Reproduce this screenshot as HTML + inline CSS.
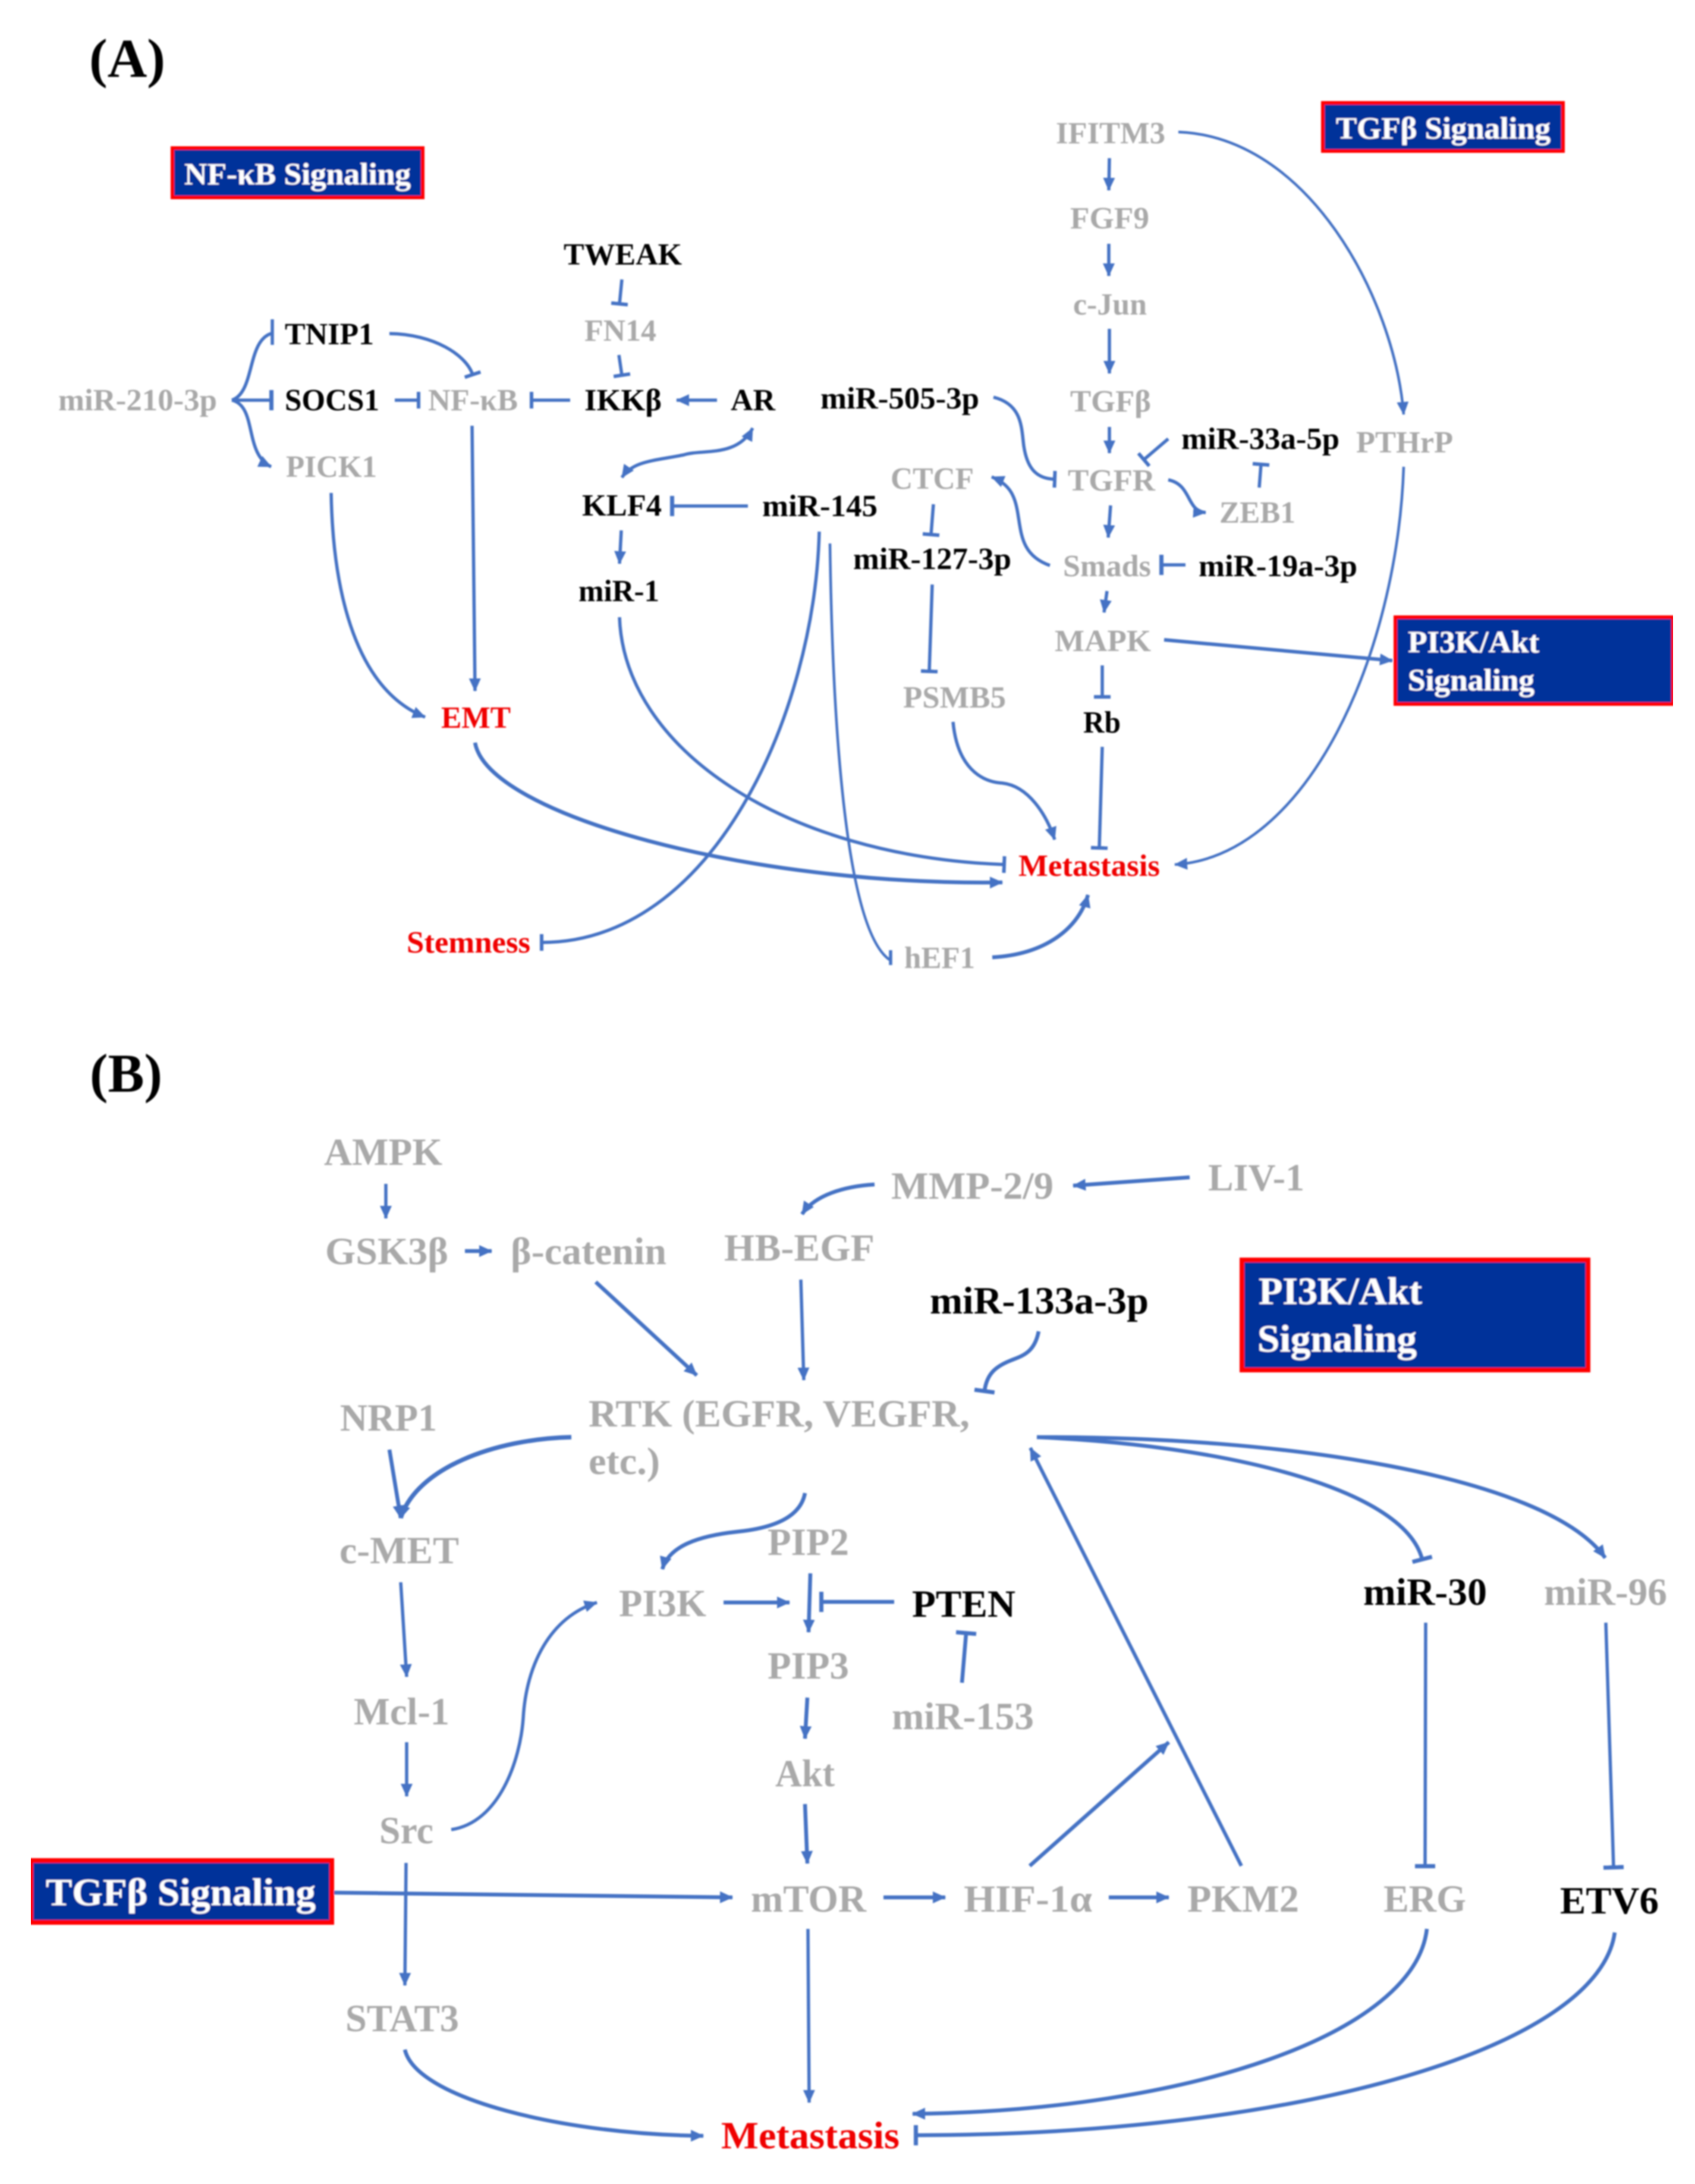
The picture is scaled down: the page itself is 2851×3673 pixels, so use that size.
<!DOCTYPE html>
<html>
<head>
<meta charset="utf-8">
<style>
html,body{margin:0;padding:0;background:#fff;width:2851px;height:3673px;overflow:hidden}
svg{display:block}
text{font-family:"Liberation Serif","DejaVu Serif",serif;font-weight:bold}
.a{font-size:52px}.b{font-size:65px}
.g{fill:#a9a9a9}.k{fill:#000}.r{fill:#f00000}.w{fill:#fff}
.t path,.t line{fill:none;stroke:#4472c4;stroke-width:5.5}
.h path,.h line{stroke-width:6.5}
</style>
</head>
<body>
<svg width="2851" height="3673" viewBox="0 0 2851 3673" xmlns="http://www.w3.org/2000/svg">
<defs>
<filter id="bl" x="0" y="0" width="100%" height="100%"><feGaussianBlur stdDeviation="1.2"/></filter>
<marker id="ar" markerUnits="userSpaceOnUse" markerWidth="26" markerHeight="26" refX="21" refY="13" orient="auto"><path d="M0,3 L22,13 L0,23 Z" fill="#4472c4" style="stroke:none"/></marker>
<marker id="as" markerUnits="userSpaceOnUse" markerWidth="26" markerHeight="26" refX="1" refY="13" orient="auto"><path d="M22,3 L0,13 L22,23 Z" fill="#4472c4" style="stroke:none"/></marker>
<marker id="ta" markerUnits="userSpaceOnUse" markerWidth="8" markerHeight="32" refX="3" refY="16" orient="auto"><rect x="0" y="2" width="6" height="28" fill="#4472c4" style="stroke:none"/></marker>
<marker id="tb" markerUnits="userSpaceOnUse" markerWidth="9" markerHeight="40" refX="3" refY="20" orient="auto"><rect x="0" y="3" width="7" height="34" fill="#4472c4" style="stroke:none"/></marker>
</defs>
<rect width="2851" height="3673" fill="#fff"/>
<g filter="url(#bl)">

<!-- boxes -->
<rect x="290" y="249" width="421" height="83" fill="#03339a" stroke="#f00" stroke-width="6"/>
<rect x="2225" y="173" width="404" height="81" fill="#03339a" stroke="#f00" stroke-width="6"/>
<rect x="2347" y="1038" width="467" height="146" fill="#03339a" stroke="#f00" stroke-width="6"/>
<rect x="2089" y="2119" width="582" height="185" fill="#03339a" stroke="#f00" stroke-width="8"/>
<rect x="52" y="3129" width="506" height="104" fill="#03339a" stroke="#f00" stroke-width="8"/>

<!-- connectors panel A -->
<g class="t">
<path d="M1046,470 L1042,511" marker-end="url(#ta)"/>
<path d="M1041,597 L1046,631" marker-end="url(#ta)"/>
<path d="M390,673 C429,660 415,574 456,561"/>
<line x1="458" y1="537" x2="458" y2="580"/>
<path d="M390,673 L456,673" marker-end="url(#tb)"/>
<path d="M390,673 C433,683 410,763 456,785" marker-end="url(#ar)"/>
<path d="M655,561 C730,562 784,597 795,630" marker-end="url(#ta)"/>
<path d="M664,673 L704,673" marker-end="url(#ta)"/>
<path d="M959,673 L894,673" marker-end="url(#ta)"/>
<path d="M1206,673 L1138,673" marker-end="url(#ar)"/>
<path d="M1266,720 C1240,770 1180,755 1150,765 C1100,775 1065,775 1046,803" marker-start="url(#as)" marker-end="url(#ar)"/>
<path d="M1258,851 L1131,851" marker-end="url(#tb)"/>
<path d="M557,829 C560,1000 600,1160 715,1206" marker-end="url(#ar)"/>
<path d="M794,716 L799,1162" marker-end="url(#ar)"/>
<path d="M1045,892 L1042,948" marker-end="url(#ar)"/>
<path d="M1042,1038 C1050,1260 1320,1440 1689,1454" marker-end="url(#ta)"/>
<path d="M799,1249 C820,1370 1260,1490 1686,1484" marker-end="url(#ar)" style="stroke-width:6.5"/>
<path d="M1378,894 C1370,1200 1200,1585 911,1585" marker-end="url(#ta)"/>
<path d="M1396,914 C1400,1200 1420,1560 1496,1614" style="stroke-width:4.5"/>
<line x1="1498" y1="1598" x2="1498" y2="1623"/>
<path d="M1669,1610 C1760,1605 1815,1560 1830,1505" marker-end="url(#ar)" style="stroke-width:6.5"/>
<path d="M1603,1214 C1610,1290 1650,1315 1686,1317 C1730,1322 1760,1370 1774,1412" marker-end="url(#ar)"/>
<path d="M1854,1256 L1849,1426" marker-end="url(#ta)"/>
<path d="M1982,222 C2200,230 2345,500 2361,697" marker-end="url(#ar)" style="stroke-width:4.5"/>
<path d="M2361,785 C2350,1100 2200,1440 1976,1454" marker-end="url(#ar)" style="stroke-width:4.5"/>
<path d="M1866,266 L1865,320" marker-end="url(#ar)"/>
<path d="M1865,410 L1865,464" marker-end="url(#ar)"/>
<path d="M1866,553 L1866,628" marker-end="url(#ar)"/>
<path d="M1866,718 L1866,762" marker-end="url(#ar)"/>
<path d="M1965,738 L1924,773" marker-end="url(#ta)"/>
<path d="M1671,668 C1720,680 1718,720 1722,750 C1728,790 1745,805 1774,806" marker-end="url(#ta)"/>
<path d="M1965,807 C2005,815 1995,860 2028,862" marker-end="url(#ar)"/>
<path d="M2118,820 L2121,781" marker-end="url(#ta)"/>
<path d="M1868,850 L1864,904" marker-end="url(#ar)"/>
<path d="M1766,951 C1720,935 1718,900 1713,870 C1708,835 1700,815 1668,802" marker-end="url(#ar)"/>
<path d="M1570,848 L1566,899" marker-end="url(#ta)"/>
<path d="M1568,983 L1563,1129" marker-end="url(#ta)"/>
<path d="M1994,950 L1954,950" marker-end="url(#tb)"/>
<path d="M1862,994 L1857,1030" marker-end="url(#ar)"/>
<path d="M1958,1076 L2342,1111" marker-end="url(#ar)" style="stroke-width:6"/>
<path d="M1854,1119 L1854,1172" marker-end="url(#ta)"/>
</g>

<!-- connectors panel B -->
<g class="t h">
<path d="M649,1991 L649,2049" marker-end="url(#ar)" style="stroke-width:5.5"/>
<path d="M782,2104 L827,2104" marker-end="url(#ar)"/>
<path d="M1002,2156 L1172,2313" marker-end="url(#ar)"/>
<path d="M1347,2152 L1352,2321" marker-end="url(#ar)" style="stroke-width:5.5"/>
<path d="M1471,1992 C1420,1995 1370,2010 1349,2042" marker-end="url(#ar)"/>
<path d="M2001,1980 L1805,1994" marker-end="url(#ar)"/>
<path d="M1747,2239 C1740,2275 1720,2280 1700,2288 C1675,2298 1660,2310 1656,2339" marker-end="url(#tb)"/>
<path d="M655,2438 L674,2553" marker-end="url(#ar)"/>
<path d="M961,2417 C830,2420 700,2470 674,2553" marker-end="url(#ar)" style="stroke-width:7.5"/>
<path d="M1354,2511 C1345,2560 1280,2572 1240,2576 C1175,2583 1125,2600 1114,2639" marker-end="url(#ar)"/>
<path d="M1363,2646 L1360,2745" marker-end="url(#ar)"/>
<path d="M1217,2695 L1328,2695" marker-end="url(#ar)"/>
<path d="M1504,2694 L1382,2694" marker-end="url(#tb)"/>
<path d="M1618,2830 L1625,2747" marker-end="url(#tb)"/>
<path d="M1744,2417 C2050,2430 2360,2500 2392,2622" marker-end="url(#tb)"/>
<path d="M1744,2417 C2150,2415 2600,2480 2700,2620" marker-end="url(#ar)"/>
<path d="M2088,3138 L1733,2435" marker-end="url(#ar)" style="stroke-width:6"/>
<path d="M1732,3138 L1966,2930" marker-end="url(#ar)"/>
<path d="M2398,2729 L2397,3138" marker-end="url(#tb)" style="stroke-width:5.5"/>
<path d="M2701,2729 L2714,3140" marker-end="url(#tb)" style="stroke-width:5.5"/>
<path d="M674,2661 L684,2820" marker-end="url(#ar)" style="stroke-width:5.5"/>
<path d="M684,2930 L684,3021" marker-end="url(#ar)" style="stroke-width:5.5"/>
<path d="M759,3077 C840,3065 875,2960 880,2890 C885,2800 925,2720 1004,2695" marker-end="url(#ar)" style="stroke-width:5.5"/>
<path d="M683,3133 L681,3339" marker-end="url(#ar)" style="stroke-width:5.5"/>
<path d="M562,3183 L1232,3191" marker-end="url(#ar)"/>
<path d="M1358,2855 L1354,2924" marker-end="url(#ar)"/>
<path d="M1354,3034 L1358,3134" marker-end="url(#ar)"/>
<path d="M1359,3244 L1361,3536" marker-end="url(#ar)" style="stroke-width:5.5"/>
<path d="M681,3447 C700,3530 950,3590 1183,3592" marker-end="url(#ar)"/>
<path d="M1486,3191 L1590,3191" marker-end="url(#ar)"/>
<path d="M1865,3191 L1966,3191" marker-end="url(#ar)"/>
<path d="M2400,3244 C2380,3420 2000,3550 1535,3555" marker-end="url(#ar)"/>
<path d="M2716,3250 C2690,3440 2200,3590 1541,3591" marker-end="url(#tb)"/>
</g>

<!-- panel letters -->
<text x="150" y="129" font-size="92" class="k" textLength="128" lengthAdjust="spacingAndGlyphs">(A)</text>
<text x="151" y="1836" font-size="92" class="k" textLength="122" lengthAdjust="spacingAndGlyphs">(B)</text>

<!-- panel A labels -->
<g class="a">
<text x="310" y="310" class="w" textLength="381" lengthAdjust="spacingAndGlyphs">NF-κB Signaling</text>
<text x="2247" y="233" class="w" textLength="361" lengthAdjust="spacingAndGlyphs">TGFβ Signaling</text>
<text x="2368" y="1097" class="w" textLength="221" lengthAdjust="spacingAndGlyphs">PI3K/Akt</text>
<text x="2368" y="1161" class="w" textLength="213" lengthAdjust="spacingAndGlyphs">Signaling</text>
<text x="948" y="445" class="k" textLength="199" lengthAdjust="spacingAndGlyphs">TWEAK</text>
<text x="983" y="573" class="g" textLength="121" lengthAdjust="spacingAndGlyphs">FN14</text>
<text x="479" y="579" class="k" textLength="150" lengthAdjust="spacingAndGlyphs">TNIP1</text>
<text x="98" y="690" class="g" textLength="267" lengthAdjust="spacingAndGlyphs">miR-210-3p</text>
<text x="479" y="690" class="k" textLength="159" lengthAdjust="spacingAndGlyphs">SOCS1</text>
<text x="720" y="690" class="g" textLength="151" lengthAdjust="spacingAndGlyphs">NF-κB</text>
<text x="983" y="690" class="k" textLength="130" lengthAdjust="spacingAndGlyphs">IKKβ</text>
<text x="1229" y="690" class="k" textLength="75" lengthAdjust="spacingAndGlyphs">AR</text>
<text x="481" y="802" class="g" textLength="153" lengthAdjust="spacingAndGlyphs">PICK1</text>
<text x="979" y="867" class="k" textLength="134" lengthAdjust="spacingAndGlyphs">KLF4</text>
<text x="1282" y="868" class="k" textLength="194" lengthAdjust="spacingAndGlyphs">miR-145</text>
<text x="973" y="1011" class="k" textLength="136" lengthAdjust="spacingAndGlyphs">miR-1</text>
<text x="1435" y="957" class="k" textLength="266" lengthAdjust="spacingAndGlyphs">miR-127-3p</text>
<text x="1380" y="687" class="k" textLength="267" lengthAdjust="spacingAndGlyphs">miR-505-3p</text>
<text x="1776" y="241" class="g" textLength="184" lengthAdjust="spacingAndGlyphs">IFITM3</text>
<text x="1800" y="384" class="g" textLength="133" lengthAdjust="spacingAndGlyphs">FGF9</text>
<text x="1805" y="529" class="g" textLength="124" lengthAdjust="spacingAndGlyphs">c-Jun</text>
<text x="1800" y="692" class="g" textLength="136" lengthAdjust="spacingAndGlyphs">TGFβ</text>
<text x="1987" y="755" class="k" textLength="266" lengthAdjust="spacingAndGlyphs">miR-33a-5p</text>
<text x="2281" y="761" class="g" textLength="163" lengthAdjust="spacingAndGlyphs">PTHrP</text>
<text x="1796" y="825" class="g" textLength="147" lengthAdjust="spacingAndGlyphs">TGFR</text>
<text x="1498" y="822" class="g" textLength="140" lengthAdjust="spacingAndGlyphs">CTCF</text>
<text x="2051" y="879" class="g" textLength="128" lengthAdjust="spacingAndGlyphs">ZEB1</text>
<text x="1788" y="969" class="g" textLength="148" lengthAdjust="spacingAndGlyphs">Smads</text>
<text x="2016" y="969" class="k" textLength="267" lengthAdjust="spacingAndGlyphs">miR-19a-3p</text>
<text x="1774" y="1095" class="g" textLength="162" lengthAdjust="spacingAndGlyphs">MAPK</text>
<text x="1519" y="1190" class="g" textLength="173" lengthAdjust="spacingAndGlyphs">PSMB5</text>
<text x="1822" y="1232" class="k" textLength="63" lengthAdjust="spacingAndGlyphs">Rb</text>
<text x="742" y="1224" class="r" textLength="117" lengthAdjust="spacingAndGlyphs">EMT</text>
<text x="684" y="1602" class="r" textLength="208" lengthAdjust="spacingAndGlyphs">Stemness</text>
<text x="1713" y="1473" class="r" textLength="238" lengthAdjust="spacingAndGlyphs">Metastasis</text>
<text x="1521" y="1628" class="g" textLength="119" lengthAdjust="spacingAndGlyphs">hEF1</text>
</g>

<!-- panel B labels -->
<g class="b">
<text x="2117" y="2193" class="w" textLength="275" lengthAdjust="spacingAndGlyphs">PI3K/Akt</text>
<text x="2115" y="2273" class="w" textLength="268" lengthAdjust="spacingAndGlyphs">Signaling</text>
<text x="77" y="3204" class="w" textLength="454" lengthAdjust="spacingAndGlyphs">TGFβ Signaling</text>
<text x="545" y="1959" class="g" textLength="199" lengthAdjust="spacingAndGlyphs">AMPK</text>
<text x="547" y="2126" class="g" textLength="207" lengthAdjust="spacingAndGlyphs">GSK3β</text>
<text x="859" y="2126" class="g" textLength="262" lengthAdjust="spacingAndGlyphs">β-catenin</text>
<text x="1218" y="2120" class="g" textLength="253" lengthAdjust="spacingAndGlyphs">HB-EGF</text>
<text x="990" y="2399" class="g" textLength="641" lengthAdjust="spacingAndGlyphs">RTK (EGFR, VEGFR,</text>
<text x="990" y="2479" class="g" textLength="120" lengthAdjust="spacingAndGlyphs">etc.)</text>
<text x="572" y="2406" class="g" textLength="163" lengthAdjust="spacingAndGlyphs">NRP1</text>
<text x="571" y="2629" class="g" textLength="201" lengthAdjust="spacingAndGlyphs">c-MET</text>
<text x="1291" y="2615" class="g" textLength="137" lengthAdjust="spacingAndGlyphs">PIP2</text>
<text x="1041" y="2718" class="g" textLength="147" lengthAdjust="spacingAndGlyphs">PI3K</text>
<text x="1499" y="2016" class="g" textLength="273" lengthAdjust="spacingAndGlyphs">MMP-2/9</text>
<text x="2032" y="2002" class="g" textLength="162" lengthAdjust="spacingAndGlyphs">LIV-1</text>
<text x="1564" y="2209" class="k" textLength="368" lengthAdjust="spacingAndGlyphs">miR-133a-3p</text>
<text x="1534" y="2719" class="k" textLength="174" lengthAdjust="spacingAndGlyphs">PTEN</text>
<text x="2293" y="2699" class="k" textLength="208" lengthAdjust="spacingAndGlyphs">miR-30</text>
<text x="2597" y="2699" class="g" textLength="207" lengthAdjust="spacingAndGlyphs">miR-96</text>
<text x="1500" y="2908" class="g" textLength="239" lengthAdjust="spacingAndGlyphs">miR-153</text>
<text x="1291" y="2823" class="g" textLength="137" lengthAdjust="spacingAndGlyphs">PIP3</text>
<text x="595" y="2900" class="g" textLength="161" lengthAdjust="spacingAndGlyphs">Mcl-1</text>
<text x="1304" y="3004" class="g" textLength="100" lengthAdjust="spacingAndGlyphs">Akt</text>
<text x="638" y="3100" class="g" textLength="91" lengthAdjust="spacingAndGlyphs">Src</text>
<text x="1263" y="3215" class="g" textLength="194" lengthAdjust="spacingAndGlyphs">mTOR</text>
<text x="581" y="3416" class="g" textLength="191" lengthAdjust="spacingAndGlyphs">STAT3</text>
<text x="1213" y="3613" class="r" textLength="300" lengthAdjust="spacingAndGlyphs">Metastasis</text>
<text x="1621" y="3215" class="g" textLength="216" lengthAdjust="spacingAndGlyphs">HIF-1α</text>
<text x="1997" y="3215" class="g" textLength="188" lengthAdjust="spacingAndGlyphs">PKM2</text>
<text x="2327" y="3215" class="g" textLength="139" lengthAdjust="spacingAndGlyphs">ERG</text>
<text x="2624" y="3218" class="k" textLength="166" lengthAdjust="spacingAndGlyphs">ETV6</text>
</g>

</g>
</svg>
</body>
</html>
